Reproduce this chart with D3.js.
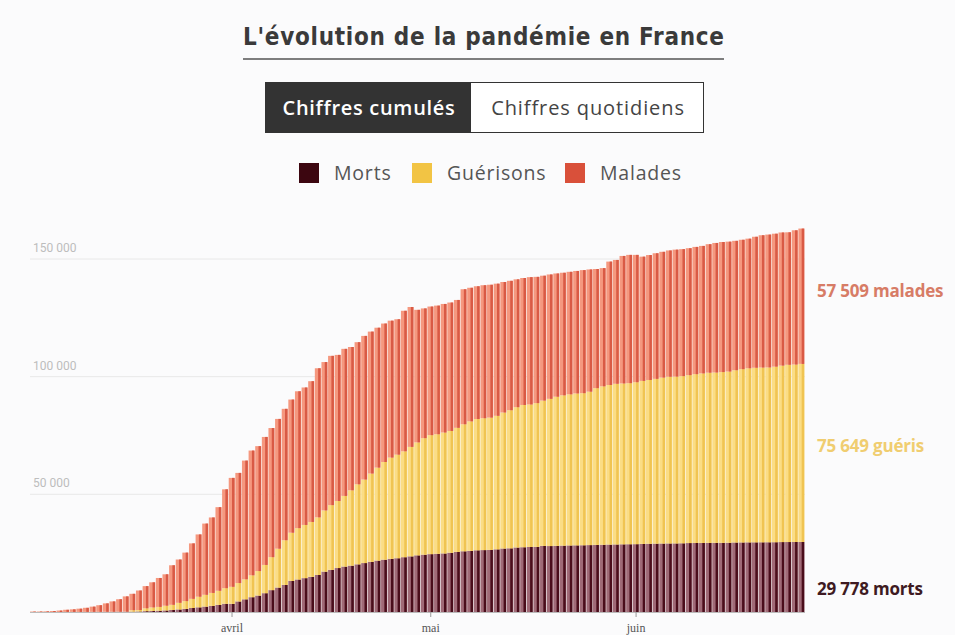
<!DOCTYPE html>
<html>
<head>
<meta charset="utf-8">
<script src="https://cdn.jsdelivr.net/npm/d3@7"></script>
<style>
  body { margin: 0; background: #fbfbfc; }
  svg { display: block; }
</style>
</head>
<body>
<svg width="955" height="635"></svg>
<script>
// cumulative figures, one value per day from 2 March to 26 June 2020
var cas = [
  191, 212, 285, 423, 613, 949, 1126, 1412, 1784, 2281, 2876, 3661, 4499, 5423, 6633,
  7730, 9134, 10995, 12612, 14459, 16018, 19856, 22302, 25233, 29155, 32964, 37575, 40174, 44550, 52128,
  56989, 59105, 64338, 68605, 70478, 74390, 78167, 82048, 86334, 90276, 93790, 95403, 98076, 103573, 106206,
  108847, 109252, 111821, 112606, 114657, 117324, 119151, 120804, 122577, 123800, 124400, 128000, 129600, 128400, 129000,
  129800, 130200, 130900, 131500, 132600, 137150, 137779, 138421, 138854, 139063, 139519, 140227, 140734, 141356, 141919,
  142291, 142411, 142903, 143427, 143845, 144163, 144556, 144921, 145279, 145555, 145746, 146122, 148900, 149600, 151300,
  151750, 151750, 151000, 151677, 152444, 153055, 153634, 153977, 154188, 154591, 155136, 155561, 156287, 156813, 157220,
  157372, 157716, 158174, 158641, 159452, 160093, 160377, 160750, 161267, 161348, 162200, 162936
];
var morts = [
  3, 4, 4, 7, 9, 16, 19, 25, 33, 48, 61, 79, 91, 127, 148,
  175, 244, 372, 450, 562, 674, 860, 1100, 1331, 1696, 1995, 2314, 2606, 3024, 3523,
  3500, 4500, 5400, 6300, 7000, 8000, 9300, 10400, 11500, 13197, 13832, 14393, 14967, 15729, 17167,
  17920, 18681, 19323, 19718, 20265, 20796, 21340, 21856, 22245, 22614, 22856, 23293, 23660, 24087, 24376,
  24594, 24760, 24895, 25201, 25531, 25809, 25987, 26230, 26310, 26380, 26643, 26991, 27074, 27425, 27529,
  27625, 27700, 28108, 28022, 28132, 28215, 28289, 28332, 28367, 28432, 28530, 28596, 28662, 28714, 28771,
  28802, 28833, 28940, 29021, 29065, 29111, 29142, 29155, 29209, 29296, 29319, 29346, 29374, 29398, 29407,
  29436, 29547, 29575, 29603, 29617, 29633, 29640, 29663, 29720, 29731, 29752, 29778
];
var gueris = [
  12, 12, 12, 12, 12, 12, 12, 12, 12, 12, 12, 12, 12, 12, 12,
  600, 600, 1200, 1500, 1600, 2000, 2200, 2800, 3300, 3900, 4500, 5000, 5500, 6000, 6600,
  7200, 7800, 8500, 9300, 10400, 12000, 14000, 16500, 19000, 20500, 21800, 22600, 23300, 24500, 26000,
  27500, 28500, 30000, 32000, 34000, 35500, 37500, 39500, 41500, 43000, 44000, 45000, 46500, 48000, 49500,
  50562, 50784, 51371, 51725, 52736, 53972, 55027, 55782, 56038, 56217, 56724, 57785, 58673, 59605, 60448,
  60562, 61066, 61728, 62563, 63354, 63858, 64209, 64547, 64617, 65199, 66584, 67309, 67803, 68268, 68355,
  68440, 68812, 69257, 69573, 70009, 70504, 70820, 70880, 71027, 71347, 71756, 72048, 72317, 72372, 72546,
  72748, 73195, 73621, 73967, 74172, 74249, 74289, 74592, 74989, 75319, 75408, 75649
];
var series = ['morts', 'gueris', 'malades'];
var legendLabels = ['Morts', 'Guérisons', 'Malades'];
var endLabels = ['morts', 'guéris', 'malades'];
var yTicks = [50000, 100000, 150000];
var monthLabels = ['avril', 'mai', 'juin'];
var monthDates = [new Date(2020, 3, 1), new Date(2020, 4, 1), new Date(2020, 5, 1)];
var buttons = ['Chiffres cumulés', 'Chiffres quotidiens'];

var colors = { morts: '#4a0d1b', gueris: '#f0c452', malades: '#d95a45' };
var lightColors = { morts: '#a06a77', gueris: '#fbdd85', malades: '#f5987f' };
var legendColors = { morts: '#3c0610', gueris: '#f2c444', malades: '#d9503a' };
var labelColors = { morts: '#3e1a22', gueris: '#f0cd70', malades: '#d77c66' };

var days = d3.timeDay.range(new Date(2020, 2, 2), new Date(2020, 5, 27));
var table = days.map(function(d, i) {
  return { date: d, morts: morts[i], gueris: gueris[i], malades: cas[i] - morts[i] - gueris[i] };
});

var svg = d3.select('svg');
var fmt = d3.formatLocale({ decimal: ',', thousands: '\u00a0', grouping: [3], currency: ['', ' €'] }).format(',d');

// title
svg.append('text')
    .attr('x', 243)
    .attr('y', 45)
    .attr('textLength', 481)
    .attr('lengthAdjust', 'spacing')
    .style('font-family', 'DejaVu Sans Condensed')
    .style('font-weight', 'bold')
    .style('font-size', '24px')
    .style('fill', '#3a3a3a')
    .text("L'évolution de la pandémie en France");

svg.append('line')
    .attr('x1', 243).attr('x2', 724)
    .attr('y1', 59).attr('y2', 59)
    .style('stroke', '#555')
    .style('stroke-width', 1.5);

// toggle buttons
svg.append('rect')
    .attr('x', 265.5).attr('y', 82.5)
    .attr('width', 438).attr('height', 50)
    .style('fill', '#fff')
    .style('stroke', '#333');
svg.append('rect')
    .attr('x', 265).attr('y', 82)
    .attr('width', 206).attr('height', 51)
    .style('fill', '#333');
svg.append('text')
    .attr('x', 369).attr('y', 115)
    .attr('text-anchor', 'middle')
    .style('font-family', 'Open Sans')
    .style('font-weight', 600)
    .style('font-size', '20px')
    .style('letter-spacing', '0.7px')
    .style('fill', '#fff')
    .text(buttons[0]);
svg.append('text')
    .attr('x', 588).attr('y', 115)
    .attr('text-anchor', 'middle')
    .style('font-family', 'Open Sans')
    .style('font-size', '20px')
    .style('letter-spacing', '0.9px')
    .style('fill', '#444')
    .text(buttons[1]);

// legend
var legendX = [299, 412, 565];
series.forEach(function(k, i) {
  svg.append('rect')
      .attr('x', legendX[i]).attr('y', 163)
      .attr('width', 20).attr('height', 20)
      .style('fill', legendColors[k]);
  svg.append('text')
      .attr('x', legendX[i] + 35).attr('y', 180)
      .style('font-family', 'Open Sans')
      .style('font-size', '19.5px')
      .style('letter-spacing', '0.8px')
      .style('fill', '#555')
      .text(legendLabels[i]);
});

// scales
var x = d3.scaleBand().domain(days.map(Number)).range([30, 805]).padding(0);
var y = d3.scaleLinear().domain([0, 150000]).range([612, 259]);

// grid
var grid = svg.append('g');
grid.selectAll('line').data(yTicks).enter().append('line')
    .attr('x1', 30).attr('x2', 805)
    .attr('y1', function(d) { return y(d); })
    .attr('y2', function(d) { return y(d); })
    .style('stroke', '#e8e8e8');
grid.selectAll('text').data(yTicks).enter().append('text')
    .attr('x', 33)
    .attr('y', function(d) { return y(d) - 7; })
    .style('font-family', 'Roboto')
    .style('font-size', '12px')
    .style('fill', '#bdbdbd')
    .text(function(d) { return fmt(d); });

// bars
var stacked = d3.stack().keys(series)(table);
var bw = x.bandwidth();
var layers = svg.selectAll('g.layer').data(stacked).enter().append('g').attr('class', 'layer');
layers.selectAll('rect.light').data(function(d) { return d; }).enter().append('rect')
    .attr('class', 'light')
    .attr('x', function(d) { return x(+d.data.date); })
    .attr('y', function(d) { return y(d[1]); })
    .attr('width', bw - 0.6)
    .attr('height', function(d) { return y(d[0]) - y(d[1]); })
    .style('fill', function() { return lightColors[d3.select(this.parentNode).datum().key]; });
layers.selectAll('rect.dark').data(function(d) { return d; }).enter().append('rect')
    .attr('class', 'dark')
    .attr('x', function(d) { return x(+d.data.date) + bw * 0.5; })
    .attr('y', function(d) { return y(d[1]); })
    .attr('width', bw * 0.38)
    .attr('height', function(d) { return y(d[0]) - y(d[1]); })
    .style('fill', function() { return colors[d3.select(this.parentNode).datum().key]; });

// baseline and x axis
svg.append('line')
    .attr('x1', 30).attr('x2', 805)
    .attr('y1', 612.5).attr('y2', 612.5)
    .style('stroke', '#bbb');

var xAxis = svg.append('g');
monthDates.forEach(function(d, i) {
  var cx = x(+d) + bw / 2;
  xAxis.append('line')
      .attr('x1', cx).attr('x2', cx)
      .attr('y1', 612).attr('y2', 617)
      .style('stroke', '#999');
  xAxis.append('text')
      .attr('x', cx).attr('y', 632)
      .attr('text-anchor', 'middle')
      .style('font-family', 'Liberation Serif')
      .style('font-size', '12px')
      .style('fill', '#555')
      .text(monthLabels[i]);
});

// end labels
var last = stacked.map(function(s) { return s[s.length - 1]; });
var labelShift = [13, -6, -4];
series.forEach(function(k, i) {
  var seg = last[i];
  var val = seg[1] - seg[0];
  svg.append('text')
      .attr('x', 817)
      .attr('y', y((seg[0] + seg[1]) / 2) + labelShift[i] + 5)
      .style('font-family', 'Open Sans')
      .style('font-weight', 'bold')
      .style('font-size', '17px')
      .style('letter-spacing', '-0.2px')
      .style('fill', labelColors[k])
      .text(fmt(val) + ' ' + endLabels[i]);
});
</script>
</body>
</html>
